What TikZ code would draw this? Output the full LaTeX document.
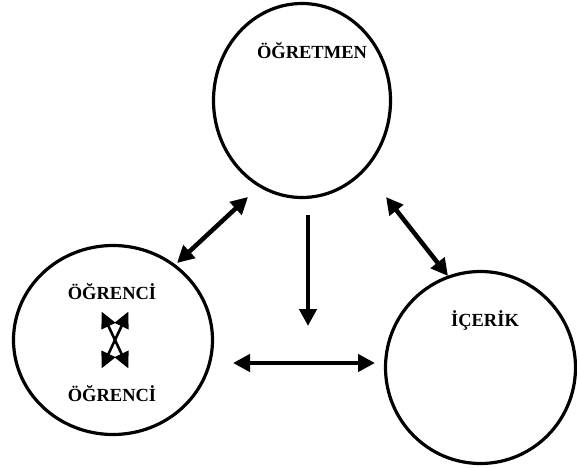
\documentclass[tikz,border=0pt]{standalone}
\usepackage{fontspec}
\setmainfont{Liberation Serif}
\usetikzlibrary{shapes.geometric,arrows.meta}
\begin{document}
\begin{tikzpicture}[x=1pt,y=-1pt,
  circ/.style={draw=black,line width=3.2pt,ellipse,inner sep=0pt,outer sep=0pt},
  lbl/.style={font=\fontsize{18.5}{20}\selectfont\bfseries,anchor=base,inner sep=0pt},
  bigarrow/.style={line width=4.5pt,{Triangle[length=17pt,width=17pt]}-{Triangle[length=17pt,width=17pt]}},
  downarrow/.style={line width=4.5pt,-{Triangle[length=17pt,width=17pt]}},
  smallarrow/.style={line width=2.6pt,{Triangle[length=16pt,width=15pt]}-{Triangle[length=16pt,width=15pt]}}]
\useasboundingbox (0,0) rectangle (577,468);
\fill[white] (0,0) rectangle (577,468);
% circles
\node[circ,minimum width=177pt,minimum height=194pt] (ogretmen) at (302,100.5) {};
\node[circ,minimum width=199pt,minimum height=189pt] (ogrenci) at (113,340) {};
\node[circ,minimum width=190pt,minimum height=192pt] (icerik) at (480.5,367.5) {};
% labels
\node[lbl] (tOgretmen) at (312,59) {ÖĞRETMEN};
\node[lbl] (tOgrenciA) at (112,299.5) {ÖĞRENCİ};
\node[lbl] (tOgrenciB) at (112,401) {ÖĞRENCİ};
\node[lbl] (tIcerik) at (485,326) {İÇERİK};
% arrow end points
\coordinate (a1) at (177,263);
\coordinate (a2) at (248,197);
\coordinate (b1) at (386,197);
\coordinate (b2) at (448,276);
\coordinate (c1) at (308,215);
\coordinate (c2) at (308,326);
\coordinate (d1) at (233,363);
\coordinate (d2) at (375,363);
\coordinate (x1) at (101.7,311.7);
\coordinate (x2) at (128.3,368.3);
\coordinate (x3) at (128.3,311.7);
\coordinate (x4) at (101.7,368.3);
% arrows
\draw[bigarrow] (a1) -- (a2);
\draw[bigarrow] (b1) -- (b2);
\draw[downarrow] (c1) -- (c2);
\draw[bigarrow] (d1) -- (d2);
\draw[smallarrow] (x1) -- (x2);
\draw[smallarrow] (x3) -- (x4);
\end{tikzpicture}
\end{document}
